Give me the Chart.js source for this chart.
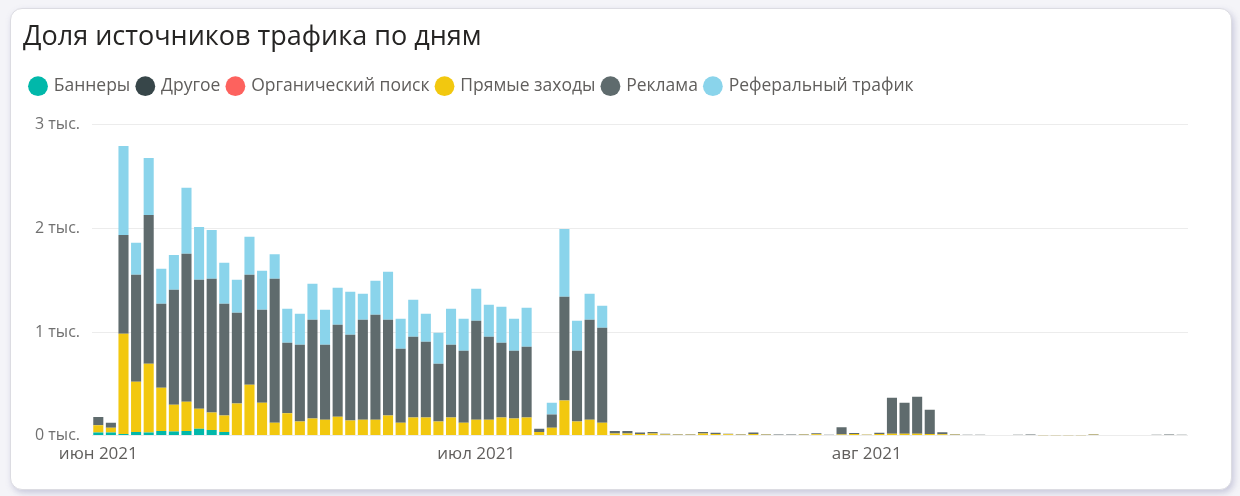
<!DOCTYPE html>
<html>
<head>
<meta charset="utf-8">
<script src="https://cdn.jsdelivr.net/npm/chart.js@4.4.0/dist/chart.umd.min.js"></script>
<style>
  html, body { margin: 0; padding: 0; background: #f4f4f8; }
  #card {
    position: absolute; left: 10px; top: 8px; width: 1220px; height: 480px;
    background: #fff; border-radius: 12px; border: 1px solid #dcdce2;
    box-shadow: 2px 3px 6px rgba(120, 120, 170, 0.35);
  }
  canvas { display: block; }
</style>
</head>
<body>
<div id="card"><canvas id="chart" width="1220" height="480"></canvas></div>
<script>
// daily traffic by source, jun 1 .. aug 26 2021
var startDate = '2021-06-01';
var dayCount = 87;
var monthTicks = { 0: 'июн 2021', 30: 'июл 2021', 61: 'авг 2021' };

var seriesNames = ['Баннеры', 'Другое', 'Органический поиск', 'Прямые заходы', 'Реклама', 'Реферальный трафик'];
var seriesColors = ['#01B8AA', '#374649', '#FD625E', '#F2C80F', '#5F6B6D', '#8AD4EB'];

var banners = [30, 30, 15, 35, 30, 45, 40, 45, 65, 55, 35, 0, 0, 0, 0, 0, 0, 0, 0, 0,
  0, 0, 0, 0, 0, 0, 0, 0, 0, 0, 0, 0, 0, 0, 0, 0, 0, 0, 0, 0,
  0, 0, 0, 0, 0, 0, 0, 0, 0, 0, 0, 0, 0, 0, 0, 0, 0, 0, 0, 0,
  0, 0, 0, 0, 0, 0, 0, 0, 0, 0, 0, 0, 0, 0, 0, 0, 0, 0, 0, 0,
  0, 0, 0, 0, 0, 0, 0];
var other = [0, 0, 0, 0, 0, 0, 0, 0, 0, 0, 0, 0, 0, 0, 0, 0, 0, 0, 0, 0,
  0, 0, 0, 0, 0, 0, 0, 0, 0, 0, 0, 0, 0, 0, 0, 0, 0, 0, 0, 0,
  0, 0, 0, 0, 0, 0, 0, 0, 0, 0, 0, 0, 0, 0, 0, 0, 0, 0, 0, 0,
  0, 0, 0, 0, 0, 0, 0, 0, 0, 0, 0, 0, 0, 0, 0, 0, 0, 0, 0, 0,
  0, 0, 0, 0, 0, 0, 0];
var organic = [0, 0, 0, 0, 0, 0, 0, 0, 0, 0, 0, 0, 0, 0, 0, 0, 0, 0, 0, 0,
  0, 0, 0, 0, 0, 0, 0, 0, 0, 0, 0, 0, 0, 0, 0, 0, 0, 0, 0, 0,
  0, 0, 0, 0, 0, 0, 0, 0, 0, 0, 0, 0, 0, 0, 0, 0, 0, 0, 0, 0,
  0, 0, 0, 0, 0, 0, 0, 0, 0, 0, 0, 0, 0, 0, 0, 0, 0, 0, 0, 0,
  0, 0, 0, 0, 0, 0, 0];
var direct = [70, 45, 969, 486, 664, 418, 259, 283, 195, 167, 158, 309, 492, 318, 125, 217, 135, 164, 154, 183,
  145, 154, 154, 193, 125, 174, 174, 135, 174, 125, 154, 154, 174, 164, 174, 35, 77, 338, 135, 154,
  125, 20, 20, 15, 20, 10, 8, 8, 20, 15, 12, 8, 15, 8, 6, 6, 8, 12, 6, 10,
  15, 8, 15, 18, 18, 18, 15, 12, 8, 6, 6, 5, 5, 6, 7, 4, 4, 4, 4, 8,
  5, 5, 5, 5, 6, 7, 6];
var ads = [80, 50, 954, 1032, 1437, 810, 1109, 1427, 1244, 1292, 1080, 877, 1061, 897, 1389, 680, 742, 955, 723, 887,
  829, 965, 1013, 926, 714, 781, 732, 559, 703, 695, 955, 801, 723, 656, 684, 30, 126, 1002, 685, 965,
  916, 25, 25, 15, 15, 8, 5, 5, 15, 12, 5, 5, 15, 5, 4, 4, 5, 10, 3, 70,
  10, 3, 12, 348, 300, 358, 235, 20, 6, 3, 3, 2, 2, 3, 4, 2, 2, 2, 2, 4,
  2, 2, 2, 2, 2, 3, 2];
var referral = [0, 0, 859, 308, 550, 337, 337, 637, 511, 472, 395, 318, 366, 376, 236, 328, 299, 347, 338, 357,
  415, 250, 328, 463, 289, 356, 270, 299, 348, 308, 309, 308, 347, 308, 376, 0, 115, 656, 289, 250,
  213, 0, 0, 0, 0, 0, 0, 0, 0, 0, 0, 0, 0, 0, 0, 0, 0, 0, 0, 0,
  0, 0, 0, 0, 0, 0, 0, 0, 0, 0, 0, 0, 0, 0, 0, 0, 0, 0, 0, 0,
  0, 0, 0, 0, 0, 0, 0];

var seriesValues = [banners, other, organic, direct, ads, referral];

var days = [];
var d0 = new Date(startDate + 'T00:00:00Z');
for (var i = 0; i < dayCount; i++) {
  var d = new Date(d0.getTime() + i * 86400000);
  days.push(d.toISOString().slice(0, 10));
}

var datasets = seriesNames.map(function (name, i) {
  return {
    label: name,
    data: seriesValues[i],
    backgroundColor: seriesColors[i],
    borderWidth: 0,
    barPercentage: 0.8,
    categoryPercentage: 1.0
  };
});

var font = "'Open Sans', 'Noto Sans', sans-serif";

// extra room under the legend, like the report visual
var legendGap = {
  id: 'legendGap',
  beforeInit: function (chart) {
    var fit = chart.legend.fit;
    chart.legend.fit = function () {
      fit.bind(chart.legend)();
      this.height += 20;
    };
  }
};

new Chart(document.getElementById('chart').getContext('2d'), {
  type: 'bar',
  data: { labels: days, datasets: datasets },
  plugins: [legendGap],
  options: {
    responsive: false,
    animation: false,
    layout: { padding: { left: 12, right: 43, top: 4, bottom: 17 } },
    plugins: {
      tooltip: { enabled: false },
      title: {
        display: true,
        text: 'Доля источников трафика по дням',
        align: 'start',
        color: '#252423',
        font: { family: font, size: 27, weight: 'normal' },
        padding: { top: 8, bottom: 16 }
      },
      legend: {
        display: true,
        align: 'start',
        labels: {
          usePointStyle: true,
          pointStyle: 'circle',
          boxWidth: 14,
          boxHeight: 14,
          padding: 8,
          color: '#605E5C',
          font: { family: font, size: 17.5 }
        }
      }
    },
    scales: {
      x: {
        stacked: true,
        grid: { display: false, drawTicks: false },
        border: { display: false },
        ticks: {
          autoSkip: false,
          maxRotation: 0,
          padding: 8,
          color: '#605E5C',
          font: { family: font, size: 17 },
          callback: function (v, idx) { return monthTicks[idx] || null; }
        }
      },
      y: {
        stacked: true,
        min: 0,
        max: 3000,
        grid: { color: '#ececec', drawTicks: false },
        border: { display: false },
        afterFit: function (scale) { scale.width = 69; },
        ticks: {
          stepSize: 1000,
          padding: 12,
          color: '#707070',
          font: { family: font, size: 16 },
          callback: function (v) { return (v / 1000) + ' тыс.'; }
        }
      }
    }
  }
});
</script>
</body>
</html>
